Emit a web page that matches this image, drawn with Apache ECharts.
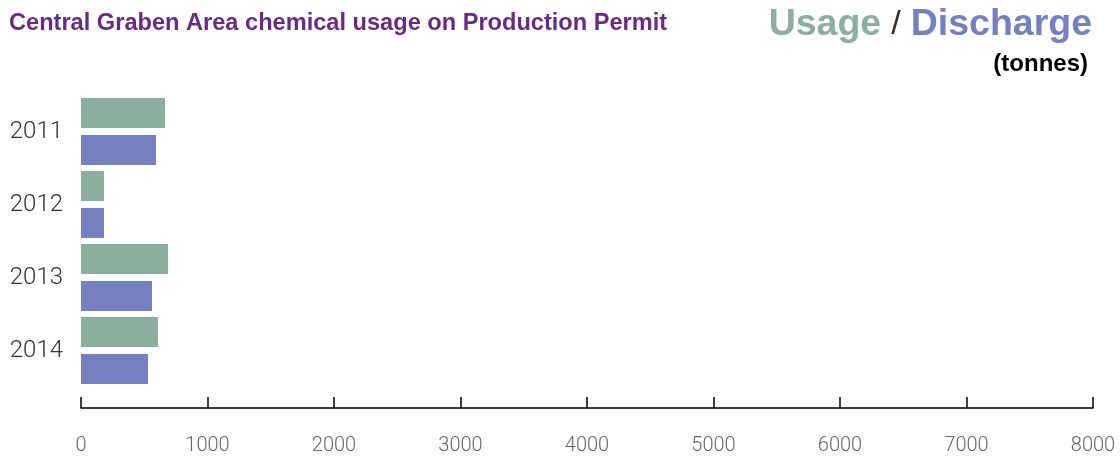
<!DOCTYPE html>
<html>
<head>
<meta charset="utf-8">
<script src="https://cdn.jsdelivr.net/npm/echarts@6/dist/echarts.min.js"></script>
<style>
  html, body { margin: 0; padding: 0; background: #fff; }
  #chart { width: 1120px; height: 457px; }
</style>
</head>
<body>
<div id="chart"></div>
<script>
// Chemical usage and discharge per year, tonnes
const years = ['2011', '2012', '2013', '2014'];
const usage = [664, 182, 688, 609];
const discharge = [593, 182, 561, 530];
const xTicks = { min: 0, max: 8000, step: 1000 };

const GREEN = '#8bae9f';
const BLUE = '#7480c0';
const FONT = '"Helvetica Neue", Helvetica, "Liberation Sans", Arial, sans-serif';
const LIGHT = 'Roboto, "Helvetica Neue", "Liberation Sans", sans-serif';

const chart = echarts.init(document.getElementById('chart'));
chart.setOption({
  animation: false,
  backgroundColor: '#fff',
  textStyle: { fontFamily: FONT },
  title: [
    {
      text: 'Central Graben Area chemical usage on Production Permit',
      left: 4, top: 6,
      textStyle: { fontFamily: FONT, fontSize: 23.6, fontWeight: 'bold', color: '#6a2a82' }
    },
    {
      text: '{u|Usage}{s|/}{d|Discharge}',
      right: 23, top: 1,
      textStyle: {
        fontFamily: FONT,
        rich: {
          u: { fontFamily: FONT, fontSize: 37.5, fontWeight: 'bold', color: GREEN },
          s: { fontFamily: FONT, fontSize: 34, fontWeight: 'normal', color: '#3d2b14', padding: [0, 10, 0, 10] },
          d: { fontFamily: FONT, fontSize: 37.5, fontWeight: 'bold', color: BLUE }
        }
      }
    },
    {
      text: '(tonnes)',
      right: 27, top: 47,
      textStyle: { fontFamily: FONT, fontSize: 24, fontWeight: 'bold', color: '#000' }
    }
  ],
  grid: { left: 81, right: 27, top: 95, bottom: 70, containLabel: false },
  xAxis: {
    type: 'value',
    min: xTicks.min, max: xTicks.max, interval: xTicks.step,
    offset: 21,
    axisLine: { show: true, lineStyle: { color: '#000', width: 1.5 } },
    axisTick: { show: true, inside: true, length: 11, lineStyle: { color: '#000', width: 1.5 } },
    axisLabel: {
      margin: 28, fontSize: 20, fontWeight: 300, color: '#666', fontFamily: LIGHT,
      formatter: v => String(v)
    },
    splitLine: { show: false }
  },
  yAxis: {
    type: 'category',
    data: years,
    inverse: true,
    axisLine: { show: false },
    axisTick: { show: false },
    axisLabel: { margin: 18, fontSize: 24, fontWeight: 300, color: '#333', fontFamily: LIGHT }
  },
  series: [
    {
      name: 'Usage', type: 'bar', data: usage,
      barWidth: 30, barGap: '23%',
      itemStyle: { color: GREEN }
    },
    {
      name: 'Discharge', type: 'bar', data: discharge,
      barWidth: 30, barGap: '23%',
      itemStyle: { color: BLUE }
    }
  ]
});
</script>
</body>
</html>
